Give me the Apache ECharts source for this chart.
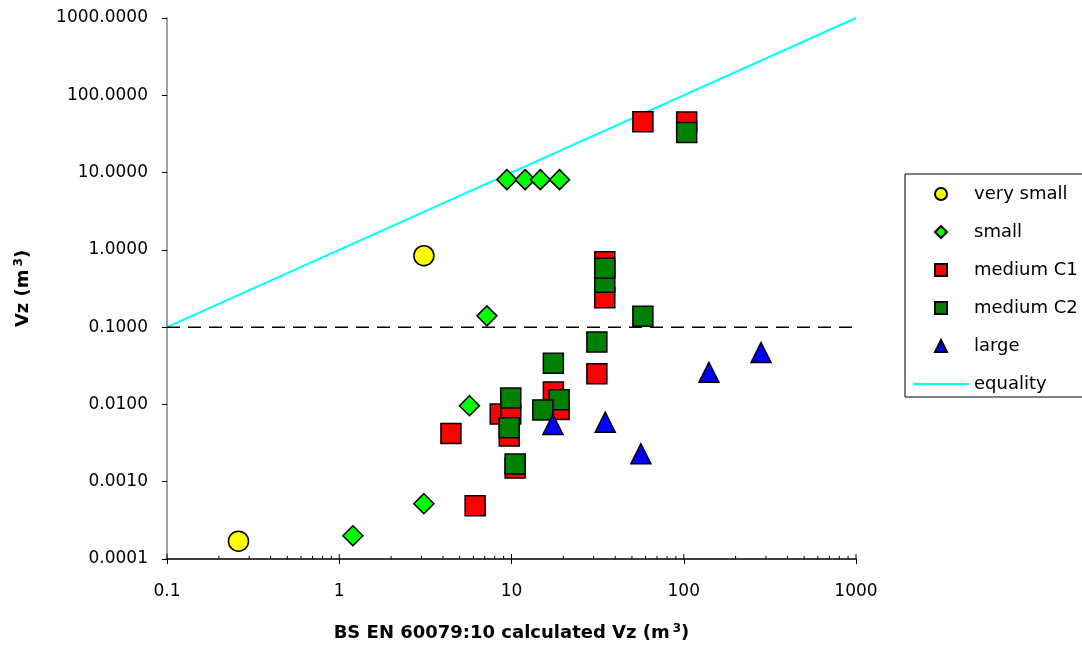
<!DOCTYPE html>
<html>
<head>
<meta charset="utf-8">
<script src="https://cdn.jsdelivr.net/npm/echarts@6/dist/echarts.min.js"></script>
<style>
  html, body { margin: 0; padding: 0; background: #fff; }
  #chart { width: 1082px; height: 647px; }
</style>
</head>
<body>
<div id="chart"></div>
<script>
// Zone volume comparison: measured/estimated Vz against BS EN 60079:10 calculated Vz

const seriesNames = ['very small', 'small', 'medium C1', 'medium C2', 'large', 'equality'];

const verySmallX = [3.1, 0.26];
const verySmallY = [0.84, 0.00017];

const smallX = [9.4, 12.0, 14.7, 19.0, 7.2, 5.7, 3.1, 1.2];
const smallY = [8.1, 8.1, 8.1, 8.1, 0.14, 0.0096, 0.00052, 0.0002];

const mediumC1X = [57.9, 104, 34.8, 34.8, 31.3, 17.5, 18.9, 8.6, 9.9, 9.7, 10.5, 4.45, 6.15];
const mediumC1Y = [45.5, 45, 0.70, 0.24, 0.025, 0.0145, 0.0086, 0.0075, 0.0075, 0.0039, 0.0015, 0.0042, 0.00049];

const mediumC2X = [104, 34.8, 34.8, 57.9, 31.3, 17.5, 18.9, 15.2, 9.9, 9.7, 10.5];
const mediumC2Y = [33, 0.38, 0.58, 0.138, 0.064, 0.034, 0.0115, 0.0085, 0.0121, 0.0050, 0.0017];

const largeX = [17.4, 35, 56.4, 140, 281];
const largeY = [0.0055, 0.0059, 0.0023, 0.026, 0.047];

const equalityX = [0.1, 1000];
const equalityY = [0.1, 1000];

const thresholdX = [0.1, 1000];
const thresholdY = [0.1, 0.1];

const xTickValues = [0.1, 1, 10, 100, 1000];
const xMinorTickValues = [
  0.2, 0.3, 0.4, 0.5, 0.6, 0.7, 0.8, 0.9,
  2, 3, 4, 5, 6, 7, 8, 9,
  20, 30, 40, 50, 60, 70, 80, 90,
  200, 300, 400, 500, 600, 700, 800, 900
];

const X_MIN = 0.1, X_MAX = 1000, Y_MIN = 0.0001, Y_MAX = 1000;

const pairs = (xs, ys) => xs.map((x, i) => [x, ys[i]]);

const FONT = 'DejaVu Sans';

const markerStyle = (color) => ({ color: color, borderColor: '#000', borderWidth: 1.5, opacity: 1 });

// square-proportioned legend glyphs (built-in shapes would stretch to the icon box)
const legendItems = [
  { name: 'very small', icon: 'circle' },
  { name: 'small', icon: 'path://M5,0L10,5L5,10L0,5Z' },
  { name: 'medium C1', icon: 'path://M0,0L10,0L10,10L0,10Z' },
  { name: 'medium C2', icon: 'path://M0,0L10,0L10,10L0,10Z' },
  { name: 'large', icon: 'path://M5,0L10,10L0,10Z' },
  // plain line sample, no point glyph on it
  { name: 'equality', itemStyle: { opacity: 0, borderWidth: 0 }, lineStyle: { width: 2, color: '#00FFFF' } }
];

// inner tick marks along the bottom axis (minor decades + inner half of major ticks)
function tickSeries(values, len) {
  return {
    type: 'custom',
    silent: true,
    z: 1,
    clip: false,
    renderItem: (params, api) => {
      const p = api.coord([api.value(0), api.value(1)]);
      return {
        type: 'line',
        shape: { x1: p[0], y1: p[1], x2: p[0], y2: p[1] - len },
        style: { stroke: '#000', lineWidth: 1 }
      };
    },
    data: values.map(v => [v, Y_MIN])
  };
}

const chart = echarts.init(document.getElementById('chart'), null, { renderer: 'canvas' });

chart.setOption({
  animation: false,
  backgroundColor: '#fff',
  textStyle: { fontFamily: FONT, color: '#000' },
  grid: { left: 167, right: 226, top: 18, bottom: 88, containLabel: false, outerBoundsMode: 'none' },
  legend: {
    data: legendItems,
    orient: 'vertical',
    left: 905,
    top: 174,
    itemWidth: 56,
    itemHeight: 12,
    itemGap: 20,
    symbolKeepAspect: true,
    padding: [11, 40, 4, 7],
    borderColor: '#000',
    borderWidth: 1,
    backgroundColor: '#fff',
    selectedMode: false,
    textStyle: { fontFamily: FONT, fontSize: 18, color: '#000', lineHeight: 18 }
  },
  xAxis: {
    type: 'log',
    logBase: 10,
    min: X_MIN,
    max: X_MAX,
    name: '{b|BS EN 60079:10 calculated Vz (m}{s|3}{b|)}',
    nameLocation: 'middle',
    nameGap: 64,
    nameTextStyle: {
      rich: {
        b: { fontFamily: FONT, fontWeight: 'bold', fontSize: 18, color: '#000' },
        s: { fontFamily: FONT, fontWeight: 'bold', fontSize: 12, color: '#000', verticalAlign: 'top', padding: [0, 0, 8, 3] }
      }
    },
    axisLine: { lineStyle: { color: '#000', width: 1.5 } },
    axisTick: { show: true, length: 5, lineStyle: { color: '#000', width: 1 } },
    axisLabel: {
      fontFamily: FONT, fontSize: 17, color: '#000', margin: 24,
      formatter: v => String(+Number(v).toPrecision(6))
    },
    splitLine: { show: false },
    minorTick: { show: false }
  },
  yAxis: {
    type: 'log',
    logBase: 10,
    min: Y_MIN,
    max: Y_MAX,
    name: '{b|Vz (m}{s|3}{b|)}',
    nameLocation: 'middle',
    nameGap: 134,
    nameRotate: 90,
    nameTextStyle: {
      rich: {
        b: { fontFamily: FONT, fontWeight: 'bold', fontSize: 18, color: '#000' },
        s: { fontFamily: FONT, fontWeight: 'bold', fontSize: 12, color: '#000', verticalAlign: 'top', padding: [0, 0, 8, 3] }
      }
    },
    axisLine: { lineStyle: { color: '#808080', width: 1.5 } },
    axisTick: { show: true, length: 5, lineStyle: { color: '#000', width: 1 } },
    axisLabel: {
      fontFamily: FONT, fontSize: 17, color: '#000', margin: 19,
      formatter: v => Number(v).toFixed(4)
    },
    splitLine: { show: false }
  },
  series: [
    {
      name: 'equality', type: 'line', data: pairs(equalityX, equalityY),
      symbol: 'none', z: 2,
      lineStyle: { color: '#00FFFF', width: 2 },
      itemStyle: { color: '#00FFFF' }
    },
    {
      name: 'threshold', type: 'line', data: pairs(thresholdX, thresholdY),
      symbol: 'none', z: 2, silent: true,
      lineStyle: { color: '#000', width: 1.5, type: [13, 8] }
    },
    {
      name: 'very small', type: 'scatter', symbol: 'circle', symbolSize: 20, z: 3,
      itemStyle: markerStyle('#FFFF00'), data: pairs(verySmallX, verySmallY)
    },
    {
      name: 'small', type: 'scatter', symbol: 'diamond', symbolSize: 20, z: 3,
      itemStyle: markerStyle('#00FF00'), data: pairs(smallX, smallY)
    },
    {
      name: 'medium C1', type: 'scatter', symbol: 'rect', symbolSize: 20, z: 3,
      itemStyle: markerStyle('#FF0000'), data: pairs(mediumC1X, mediumC1Y)
    },
    {
      name: 'medium C2', type: 'scatter', symbol: 'rect', symbolSize: 20, z: 3,
      itemStyle: markerStyle('#008000'), data: pairs(mediumC2X, mediumC2Y)
    },
    {
      name: 'large', type: 'scatter', symbol: 'triangle', symbolSize: 20, z: 3,
      itemStyle: markerStyle('#0000FF'), data: pairs(largeX, largeY)
    },
    tickSeries(xMinorTickValues, 3),
    tickSeries(xTickValues, 5)
  ]
});
</script>
</body>
</html>
